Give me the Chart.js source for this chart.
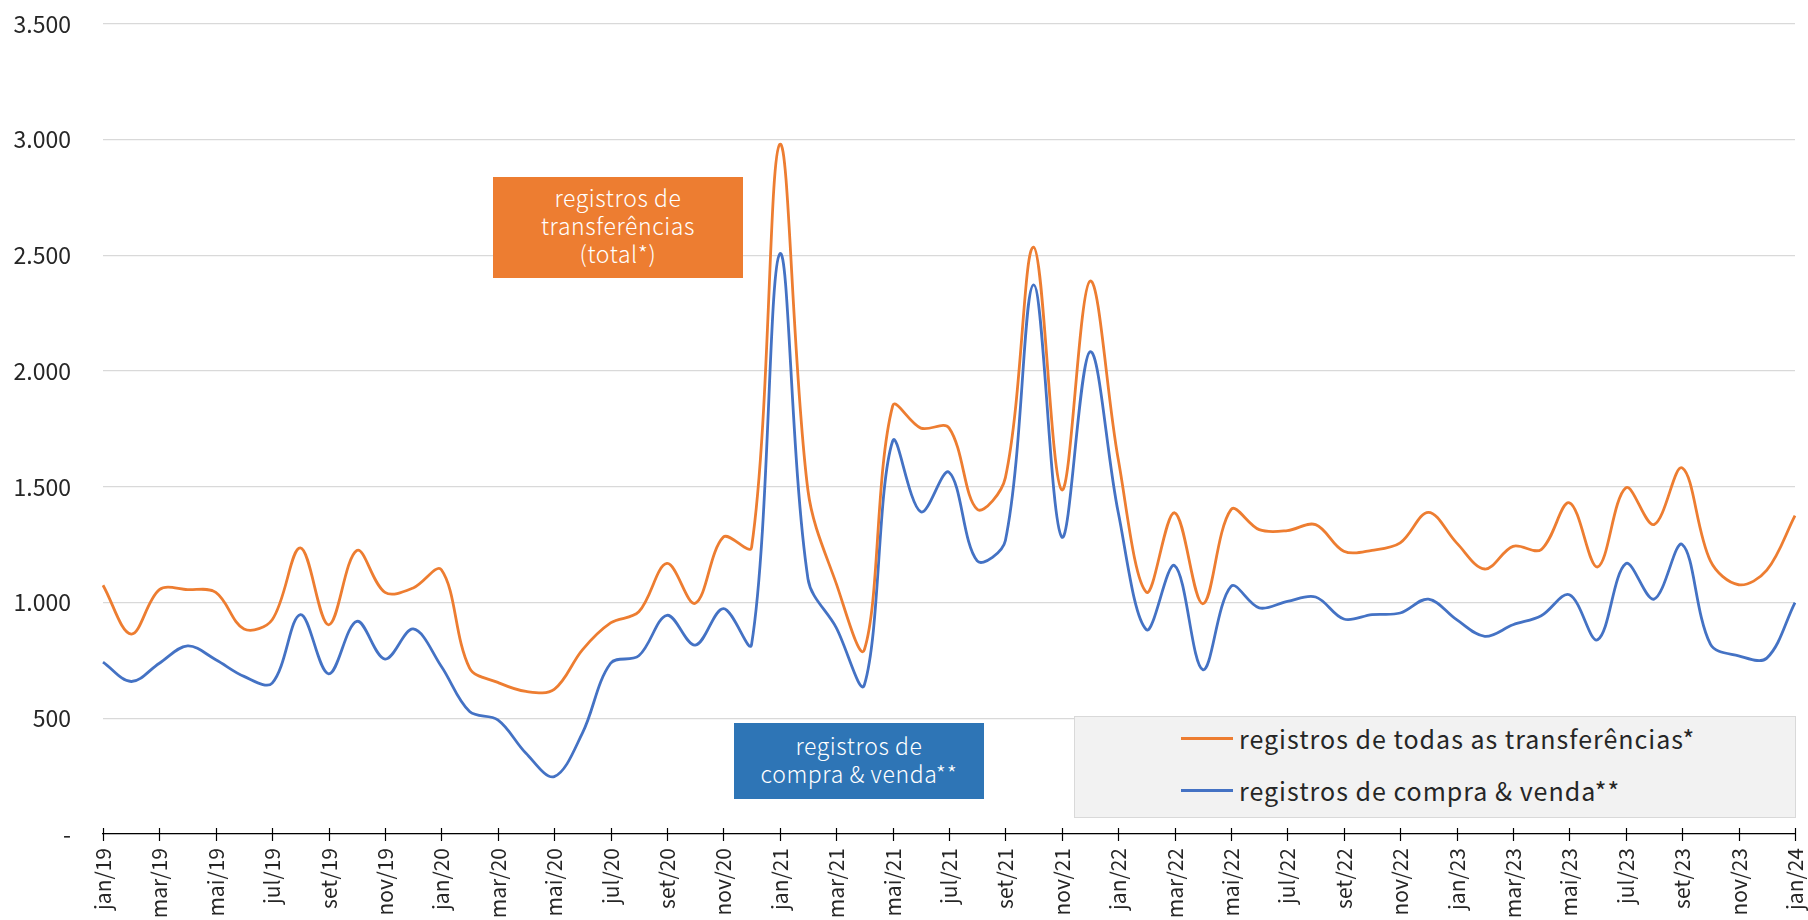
<!DOCTYPE html>
<html>
<head>
<meta charset="utf-8">
<script src="https://cdn.jsdelivr.net/npm/chart.js@4.4.1/dist/chart.umd.min.js"></script>
<style>
  body { margin: 0; background: #fff; }
  #wrap { position: relative; width: 1808px; height: 920px; font-family: "Noto Sans CJK JP", "Noto Sans", sans-serif; }
  #chart { position: absolute; left: 0; top: 0; }
  .note { position: absolute; color: #fff; text-align: center; font-size: 23px; font-weight: 300; display: flex; flex-direction: column; justify-content: center; letter-spacing: 0.6px; }
  .note div { height: 28px; line-height: 28px; }
  #legend { position: absolute; left: 1074px; top: 716px; width: 722px; height: 102px; background: #f2f2f2; border: 1px solid #d9d9d9; box-sizing: border-box; }
  .row { position: absolute; left: 106px; height: 30px; display: flex; align-items: center; font-size: 25px; letter-spacing: 1px; color: #262626; }
  .swatch { width: 52px; height: 3px; margin-right: 6px; }
</style>
</head>
<body>
<div id="wrap">
  <canvas id="chart" width="1808" height="920"></canvas>
  <div class="note" style="left:493px;top:177px;width:250px;height:101px;background:#ED7D31;">
    <div style="margin-top:-6px">registros de</div><div>transferências</div><div>(total*)</div>
  </div>
  <div class="note" style="left:734px;top:723px;width:250px;height:76px;background:#2E75B6;">
    <div style="margin-top:-4px">registros de</div><div>compra &amp; venda**</div>
  </div>
  <div id="legend">
    <div class="row" style="top:6px;"><span class="swatch" style="background:#ED7D31"></span>registros de todas as transferências*</div>
    <div class="row" style="top:58px;"><span class="swatch" style="background:#4472C4"></span>registros de compra &amp; venda**</div>
  </div>
</div>
<script>
// months jan/19 .. jan/24
const labels = [
  "jan/19","fev/19","mar/19","abr/19","mai/19","jun/19","jul/19","ago/19","set/19","out/19","nov/19","dez/19",
  "jan/20","fev/20","mar/20","abr/20","mai/20","jun/20","jul/20","ago/20","set/20","out/20","nov/20","dez/20",
  "jan/21","fev/21","mar/21","abr/21","mai/21","jun/21","jul/21","ago/21","set/21","out/21","nov/21","dez/21",
  "jan/22","fev/22","mar/22","abr/22","mai/22","jun/22","jul/22","ago/22","set/22","out/22","nov/22","dez/22",
  "jan/23","fev/23","mar/23","abr/23","mai/23","jun/23","jul/23","ago/23","set/23","out/23","nov/23","dez/23",
  "jan/24"
];

// registros de todas as transferências*
const totalTransf = [
  1075, 864, 1056, 1056, 1044, 886, 926, 1236, 904, 1225, 1044, 1063,
  1142, 717, 655, 616, 625, 796, 912, 960, 1169, 997, 1283, 1239,
  2980, 1483, 1083, 797, 1849, 1754, 1755, 1403, 1540, 2536, 1487, 2389,
  1620, 1045, 1388, 995, 1402, 1315, 1311, 1337, 1222, 1226, 1258, 1390,
  1258, 1145, 1243, 1229, 1431, 1154, 1496, 1337, 1582, 1180, 1077, 1140,
  1376
];

// registros de compra & venda**
const compraVenda = [
  743, 659, 738, 813, 753, 681, 652, 948, 692, 919, 756, 886,
  724, 529, 493, 349, 248, 436, 738, 770, 945, 816, 974, 820,
  2507, 1102, 892, 645, 1697, 1392, 1563, 1180, 1268, 2373, 1283, 2084,
  1390, 883, 1160, 710, 1070, 977, 1005, 1024, 929, 948, 955, 1015,
  926, 854, 904, 943, 1034, 839, 1168, 1015, 1251, 820, 770, 760,
  1000
];

const yMax = 3500;
const yStep = 500;

function fmt(v) {
  if (v === 0) return "-";
  return String(v).replace(/\B(?=(\d{3})+(?!\d))/g, ".");
}

const crossTicks = {
  id: "crossTicks",
  afterDraw(chart) {
    const ctx = chart.ctx;
    const xs = chart.scales.x;
    const yb = chart.chartArea.bottom;
    ctx.save();
    ctx.strokeStyle = "#000";
    ctx.lineWidth = 1.2;
    for (let i = 0; i < labels.length; i += 2) {
      const px = Math.round(xs.getPixelForValue(i)) + 0.5;
      ctx.beginPath();
      ctx.moveTo(px, yb - 6);
      ctx.lineTo(px, yb + 7);
      ctx.stroke();
    }
    ctx.restore();
  },
};

const font = "'Noto Sans CJK JP', 'Noto Sans', sans-serif";

new Chart(document.getElementById("chart"), {
  type: "line",
  data: {
    labels: labels,
    datasets: [
      {
        label: "registros de todas as transferências*",
        data: totalTransf,
        borderColor: "#ED7D31",
        borderWidth: 2.8,
        pointRadius: 0,
        tension: 0.35,
        fill: false,
      },
      {
        label: "registros de compra & venda**",
        data: compraVenda,
        borderColor: "#4472C4",
        borderWidth: 2.8,
        pointRadius: 0,
        tension: 0.35,
        fill: false,
      },
    ],
  },
  options: {
    responsive: false,
    animation: false,
    devicePixelRatio: 1,
    layout: { padding: { top: 24, right: 13, left: 0, bottom: 0 } },
    plugins: { legend: { display: false }, tooltip: { enabled: false } },
    scales: {
      x: {
        grid: { display: false, drawTicks: false },
        border: { display: true, color: "#000", width: 1.3 },
        afterFit(scale) {
          scale.height = 86;
          scale.paddingLeft = 0;
          scale.paddingRight = 0;
        },
        ticks: {
          autoSkip: false,
          maxRotation: 90,
          minRotation: 90,
          padding: 14,
          color: "#262626",
          font: { family: font, size: 21 },
          callback: function (v, i) { return i % 2 === 0 ? labels[i] : ""; },
        },
      },
      y: {
        min: 0,
        max: yMax,
        grid: { color: "#d9d9d9", lineWidth: 1.3, drawTicks: false },
        border: { display: false },
        afterFit(scale) {
          scale.width = 103;
          scale.paddingTop = 0;
          scale.paddingBottom = 0;
        },
        ticks: {
          stepSize: yStep,
          padding: 32,
          color: "#262626",
          font: { family: font, size: 23 },
          callback: (v) => fmt(v),
        },
      },
    },
  },
  plugins: [crossTicks],
});
</script>
</body>
</html>
